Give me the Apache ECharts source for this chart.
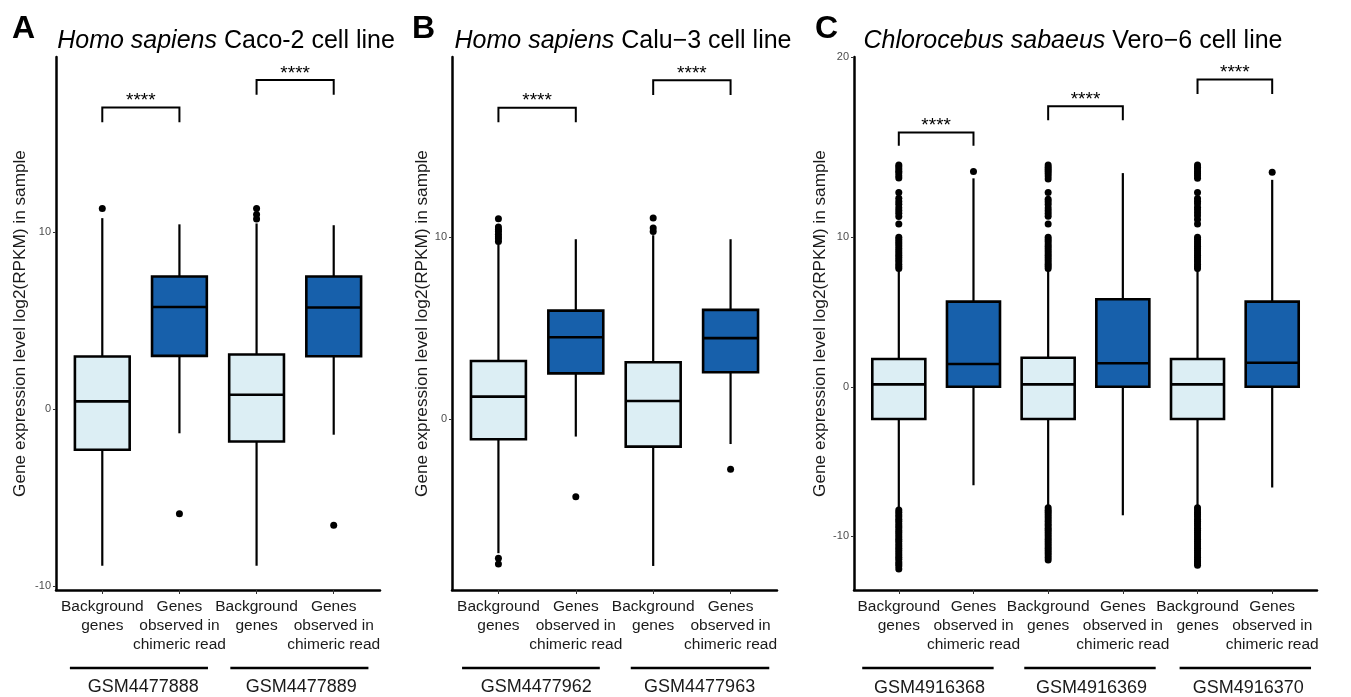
<!DOCTYPE html>
<html>
<head>
<meta charset="utf-8">
<script src="https://cdn.jsdelivr.net/npm/echarts@6/dist/echarts.min.js"></script>
<style>
html,body{margin:0;padding:0;background:#fff;}
#chart{width:1351px;height:697px;}
</style>
</head>
<body>
<div id="chart"></div>
<script>
// ---------------- DATA ----------------
const catBg = 'Background\ngenes';
const catChim = 'Genes\nobserved in\nchimeric read';
const categoriesA = [catBg, catChim, catBg, catChim];
const categoriesB = [catBg, catChim, catBg, catChim];
const categoriesC = [catBg, catChim, catBg, catChim, catBg, catChim];

const groupsA = ['GSM4477888', 'GSM4477889'];
const groupsB = ['GSM4477962', 'GSM4477963'];
const groupsC = ['GSM4916368', 'GSM4916369', 'GSM4916370'];

// box statistics: [lower whisker, Q1, median, Q3, upper whisker]
const statsA = [
  [-8.83, -2.28, 0.45, 2.99, 10.8],
  [-1.35, 3.02, 5.78, 7.5, 10.45],
  [-8.83, -1.81, 0.83, 3.1, 10.5],
  [-1.43, 3.0, 5.75, 7.5, 10.4]
];
const statsB = [
  [-7.35, -1.1, 1.24, 3.2, 9.6],
  [-0.95, 2.52, 4.5, 5.96, 9.88],
  [-8.05, -1.5, 1.0, 3.13, 10.1],
  [-1.36, 2.58, 4.45, 6.0, 9.88]
];
const statsC = [
  [-8.1, -2.16, 0.16, 1.86, 7.8],
  [-6.59, 0.0, 1.52, 5.7, 13.95],
  [-8.0, -2.16, 0.16, 1.94, 7.8],
  [-8.6, 0.0, 1.57, 5.86, 14.3],
  [-8.0, -2.16, 0.16, 1.86, 7.8],
  [-6.74, 0.0, 1.61, 5.7, 13.85]
];

// outlier values per box
const outliersA = [[11.35], [-5.9], [10.75, 11.0, 11.35], [-6.55]];
const outliersB = [
  [9.75, 9.9, 10.02, 10.15, 10.3, 10.42, 10.55, 11.0, -7.63, -7.95],
  [-4.25],
  [10.3, 10.5, 11.05],
  [-2.75]
];
const outliersC = [
  [14.85, 14.72, 14.58, 14.43, 14.3, 14.12, 13.98, 13.0, 12.62, 12.4, 12.22, 11.98, 11.8, 11.62, 11.4, 10.9,
   10.0, 9.86, 9.7, 9.57, 9.42, 9.25, 9.1, 8.96, 8.8, 8.66, 8.5, 8.36, 8.2, 8.05, 7.92,
   -8.25, -8.4, -8.57, -8.7, -8.86, -9.0, -9.17, -9.31, -9.45, -9.62, -9.76, -9.9, -10.05, -10.21, -10.34,
   -10.5, -10.66, -10.8, -10.95, -11.1, -11.26, -11.4, -11.55, -11.72, -11.86, -12.0, -12.2],
  [14.41],
  [14.85, 14.7, 14.55, 14.42, 14.28, 14.1, 13.9, 13.0, 12.55, 12.38, 12.2, 11.97, 11.78, 11.6, 11.42, 10.9,
   10.0, 9.85, 9.72, 9.55, 9.41, 9.26, 9.1, 8.95, 8.81, 8.65, 8.5, 8.35, 8.2, 8.06, 7.92,
   -8.1, -8.26, -8.4, -8.55, -8.7, -8.85, -9.0, -9.16, -9.3, -9.46, -9.6, -9.75, -9.9, -10.05, -10.2,
   -10.36, -10.5, -10.66, -10.8, -10.95, -11.1, -11.25, -11.42, -11.6],
  [],
  [14.85, 14.7, 14.57, 14.41, 14.27, 14.12, 13.95, 13.0, 12.6, 12.42, 12.25, 12.02, 11.85, 11.65, 11.45, 11.2, 10.9,
   10.0, 9.87, 9.7, 9.56, 9.4, 9.26, 9.1, 8.96, 8.8, 8.65, 8.5, 8.36, 8.2, 8.05, 7.92,
   -8.1, -8.25, -8.41, -8.55, -8.7, -8.86, -9.0, -9.15, -9.3, -9.46, -9.6, -9.76, -9.9, -10.05, -10.2,
   -10.35, -10.5, -10.66, -10.8, -10.95, -11.1, -11.26, -11.4, -11.56, -11.7, -11.82, -11.95],
  [14.35]
];

// significance brackets: [from box, to box, bar level, leg end level]
const bracketsA = [[1, 2, 17.05, 16.22], [3, 4, 18.6, 17.77]];
const bracketsB = [[1, 2, 17.1, 16.3], [3, 4, 18.6, 17.8]];
const bracketsC = [[1, 2, 17.02, 16.13], [3, 4, 18.77, 17.83], [5, 6, 20.56, 19.6]];
const sigLabel = '****';

// y tick labels
const yTicksAB = [-10, 0, 10];
const yTickLabelsC = ['-10', '0', '10', '20'];

const titles = [
  ['Homo sapiens', ' Caco-2 cell line'],
  ['Homo sapiens', ' Calu\u22123 cell line'],
  ['Chlorocebus sabaeus', ' Vero\u22126 cell line']
];
const panelLetters = ['A', 'B', 'C'];
const yName = 'Gene expression level log2(RPKM) in sample';

// ---------------- LAYOUT / STYLE ----------------
const FONT = '"Liberation Sans", Arial, Helvetica, sans-serif';
const LIGHT = '#DCEEF4';
const DARK = '#1760AB';
const BOX_WIDTH = 0.71;

const panels = [
  { cats: categoriesA, stats: statsA, outs: outliersA, brackets: bracketsA, groups: groupsA,
    grid: { left: 56, top: 57, width: 324, height: 533 }, yMin: -10.2, yMax: 19.9, nameGap: 27,
    groupSpans: [[0.58, 2.37, 1.53], [2.66, 4.45, 3.58]], groupLabelDy: 97,
    yTickVals: yTicksAB, yTickLabels: yTicksAB.map(String), titleX: 226, letterX: 12 },
  { cats: categoriesB, stats: statsB, outs: outliersB, brackets: bracketsB, groups: groupsB,
    grid: { left: 452, top: 57, width: 325, height: 533 }, yMin: -9.37, yMax: 19.88, nameGap: 20,
    groupSpans: [[0.53, 2.31, 1.49], [2.71, 4.5, 3.6]], groupLabelDy: 97,
    yTickVals: yTicksAB, yTickLabels: yTicksAB.map(String), titleX: 623, letterX: 412 },
  { cats: categoriesC, stats: statsC, outs: outliersC, brackets: bracketsC, groups: groupsC,
    grid: { left: 854, top: 57, width: 463, height: 533 }, yMin: -13.6, yMax: 22.07, nameGap: 24,
    groupSpans: [[0.51, 2.27, 1.41], [2.68, 4.44, 3.58], [4.76, 6.52, 5.68]], groupLabelDy: 98,
    yTickVals: [-10, 0, 10, 22.07], yTickLabels: yTickLabelsC, titleX: 1073, letterX: 815 }
];

const chart = echarts.init(document.getElementById('chart'), null, { renderer: 'canvas' });

const grids = [], xAxes = [], yAxes = [], series = [], graphics = [];

panels.forEach((p, pi) => {
  const n = p.cats.length;
  const xs = p.cats.map((_, i) => i + 1);
  grids.push(Object.assign({ outerBoundsMode: 'none', containLabel: false }, p.grid));
  xAxes.push({
    gridIndex: pi, type: 'value', min: 0.4, max: n + 0.6,
    axisLine: { show: true, onZero: false, lineStyle: { color: '#000', width: 2.5 } },
    axisTick: { show: true, customValues: xs, length: 4, lineStyle: { color: '#333', width: 1 } },
    axisLabel: { show: false },
    splitLine: { show: false }
  });
  yAxes.push({
    gridIndex: pi, type: 'value', min: p.yMin, max: p.yMax,
    name: yName, nameLocation: 'middle', nameGap: p.nameGap,
    nameTextStyle: { fontFamily: FONT, fontSize: 17.2, color: '#1a1a1a' },
    axisLine: { show: true, lineStyle: { color: '#000', width: 2.5 } },
    axisTick: { show: true, customValues: p.yTickVals, length: 3, lineStyle: { color: '#333', width: 1 } },
    axisLabel: {
      show: true, customValues: p.yTickVals, margin: 5, showMinLabel: true, showMaxLabel: true,
      formatter: (v) => { const k = p.yTickVals.findIndex(t => Math.abs(t - v) < 1e-6); return k >= 0 ? p.yTickLabels[k] : ''; },
      fontFamily: FONT, fontSize: 11, color: '#4d4d4d'
    },
    splitLine: { show: false }
  });

  // boxes (+ category label under each box)
  series.push({
    type: 'custom', xAxisIndex: pi, yAxisIndex: pi, clip: false, z: 2,
    data: p.stats.map((s, i) => [i + 1, s[0], s[1], s[2], s[3], s[4], i % 2]),
    renderItem: (params, api) => {
      const cs = params.coordSys;
      const x = api.value(0);
      const lo = api.coord([x, api.value(1)]);
      const q1 = api.coord([x, api.value(2)]);
      const md = api.coord([x, api.value(3)]);
      const q3 = api.coord([x, api.value(4)]);
      const hi = api.coord([x, api.value(5)]);
      const w = api.size([BOX_WIDTH, 0])[0];
      const fill = api.value(6) === 0 ? LIGHT : DARK;
      return { type: 'group', children: [
        { type: 'line', shape: { x1: lo[0], y1: lo[1], x2: q1[0], y2: q1[1] }, style: { stroke: '#000', lineWidth: 2.2 } },
        { type: 'line', shape: { x1: q3[0], y1: q3[1], x2: hi[0], y2: hi[1] }, style: { stroke: '#000', lineWidth: 2.2 } },
        { type: 'rect', shape: { x: q3[0] - w / 2, y: q3[1], width: w, height: q1[1] - q3[1] }, style: { fill: fill, stroke: '#000', lineWidth: 2.6 } },
        { type: 'line', shape: { x1: md[0] - w / 2, y1: md[1], x2: md[0] + w / 2, y2: md[1] }, style: { stroke: '#000', lineWidth: 2.6 } },
        { type: 'text', x: md[0], y: cs.y + cs.height + 7,
          style: { text: p.cats[params.dataIndex], fontFamily: FONT, fontSize: 15.5, lineHeight: 19,
                   fill: '#1a1a1a', align: 'center', verticalAlign: 'top' } }
      ] };
    }
  });

  // outliers
  const pts = [];
  p.outs.forEach((arr, i) => arr.forEach(v => pts.push([i + 1, v])));
  series.push({
    type: 'scatter', xAxisIndex: pi, yAxisIndex: pi, z: 3, symbol: 'circle', symbolSize: 7,
    itemStyle: { color: '#000', opacity: 1 }, data: pts, silent: true
  });

  // brackets
  series.push({
    type: 'custom', xAxisIndex: pi, yAxisIndex: pi, clip: false, z: 3,
    data: p.brackets,
    renderItem: (params, api) => {
      const x1 = api.value(0), x2 = api.value(1), yt = api.value(2), yd = api.value(3);
      const a = api.coord([x1, yd]), b = api.coord([x1, yt]), c = api.coord([x2, yt]), d = api.coord([x2, yd]);
      return { type: 'group', children: [
        { type: 'polyline', shape: { points: [a, b, c, d] }, style: { stroke: '#000', lineWidth: 2, fill: null } },
        { type: 'text', x: (b[0] + c[0]) / 2, y: b[1] + 3,
          style: { text: sigLabel, fontFamily: FONT, fontSize: 19, fill: '#000', align: 'center', verticalAlign: 'bottom' } }
      ] };
    }
  });

  // group lines + labels
  series.push({
    type: 'custom', xAxisIndex: pi, yAxisIndex: pi, clip: false, z: 3,
    data: p.groupSpans,
    renderItem: (params, api) => {
      const cs = params.coordSys;
      const s = api.coord([api.value(0), 0])[0];
      const e = api.coord([api.value(1), 0])[0];
      const lx = api.coord([api.value(2), 0])[0];
      const yb = cs.y + cs.height;
      return { type: 'group', children: [
        { type: 'line', shape: { x1: s, y1: yb + 78, x2: e, y2: yb + 78 }, style: { stroke: '#000', lineWidth: 2.5 } },
        { type: 'text', x: lx, y: yb + p.groupLabelDy,
          style: { text: p.groups[params.dataIndex], fontFamily: FONT, fontSize: 18, fill: '#1a1a1a', align: 'center', verticalAlign: 'middle' } }
      ] };
    }
  });

  // title + panel letter
  graphics.push({
    type: 'text', x: p.titleX, y: 41,
    style: {
      text: '{i|' + titles[pi][0] + '}{n|' + titles[pi][1] + '}',
      align: 'center', verticalAlign: 'middle',
      rich: {
        i: { fontFamily: FONT, fontSize: 25, fontStyle: 'italic', fill: '#000' },
        n: { fontFamily: FONT, fontSize: 25, fill: '#000' }
      }
    }
  });
  graphics.push({
    type: 'text', x: p.letterX, y: 29,
    style: { text: panelLetters[pi], fontFamily: FONT, fontSize: 32, fontWeight: 'bold', fill: '#000', align: 'left', verticalAlign: 'middle' }
  });
});

chart.setOption({
  backgroundColor: '#fff',
  animation: false,
  grid: grids,
  xAxis: xAxes,
  yAxis: yAxes,
  series: series,
  graphic: graphics
});
</script>
</body>
</html>
